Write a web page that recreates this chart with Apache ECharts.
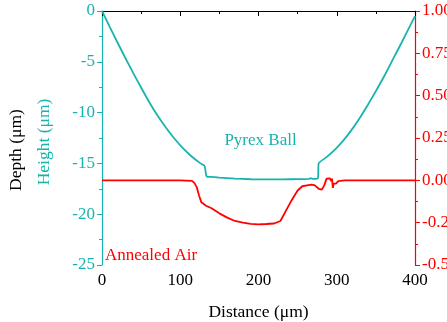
<!DOCTYPE html>
<html>
<head>
<meta charset="utf-8">
<script src="https://cdn.jsdelivr.net/npm/echarts@6/dist/echarts.min.js"></script>
<style>html,body{margin:0;padding:0;background:#fff}#c{width:447px;height:322px}</style>
</head>
<body>
<div id="c"></div>
<script>
// Height profile (Pyrex Ball), left axis
const heightX = [0, 10, 19, 29, 40, 51, 61, 72, 83, 93, 104, 115, 125, 131, 133, 134, 138, 150, 170, 190, 210, 230, 250, 265, 266, 270, 276, 277, 287, 298, 308, 319, 330, 340, 351, 362, 372, 383, 394, 400];
const heightY = [0, -1.58, -2.98, -4.5, -6.12, -7.68, -9.05, -10.42, -11.62, -12.6, -13.55, -14.35, -14.95, -15.25, -16.13, -16.3, -16.32, -16.4, -16.5, -16.56, -16.58, -16.57, -16.55, -16.53, -16.45, -16.53, -16.46, -14.98, -14.38, -13.62, -12.78, -11.7, -10.45, -9.2, -7.75, -6.22, -4.72, -3.1, -1.42, -0.5];
// Depth profile (Annealed Air), right axis
const depthX = [0, 100, 115, 118, 121, 124, 127, 133, 140, 150, 160, 170, 180, 190, 200, 210, 220, 228, 235, 242, 250, 256, 262, 268, 272, 277, 281, 284, 287, 289, 291, 293, 294, 295, 296, 297, 299, 302, 310, 400];
const depthY = [0, 0, -0.003, -0.015, -0.04, -0.09, -0.13, -0.15, -0.165, -0.195, -0.22, -0.24, -0.25, -0.257, -0.26, -0.258, -0.255, -0.24, -0.18, -0.12, -0.06, -0.035, -0.03, -0.025, -0.03, -0.05, -0.055, -0.03, 0.01, 0.0, 0.012, -0.005, 0.01, -0.045, -0.02, -0.01, -0.02, -0.005, 0, 0];

const TEAL = '#19b3ae';
const RED = '#ff0000';
const FONT = 'Liberation Serif';
const FS = 17;

const chart = echarts.init(document.getElementById('c'));
chart.setOption({
  animation: false,
  backgroundColor: '#fff',
  grid: { left: 102, right: 32, top: 11, bottom: 57, containLabel: false, outerBoundsMode: 'none' },
  xAxis: {
    type: 'value', min: 0, max: 400, interval: 100,
    axisLine: { show: true, lineStyle: { color: '#000', width: 1.2 } },
    axisTick: { show: true, length: 5, lineStyle: { color: '#000' } },
    minorTick: { show: true, splitNumber: 2, length: 3, lineStyle: { color: '#000' } },
    splitLine: { show: false },
    axisLabel: { color: '#000', fontFamily: FONT, fontSize: FS, margin: 7 },
    name: 'Distance (\u03bcm)', nameLocation: 'middle', nameGap: 38,
    nameTextStyle: { color: '#000', fontFamily: FONT, fontSize: 17.5 }
  },
  yAxis: [
    {
      type: 'value', min: -25, max: 0, interval: 5, position: 'left',
      axisLine: { show: true, lineStyle: { color: TEAL, width: 1.2 } },
      axisTick: { show: true, length: 5, lineStyle: { color: TEAL } },
      minorTick: { show: true, splitNumber: 2, length: 3, lineStyle: { color: TEAL } },
      splitLine: { show: false },
      axisLabel: { color: TEAL, fontFamily: FONT, fontSize: FS, margin: 7 }
    },
    {
      type: 'value', min: -0.5, max: 1.0, interval: 0.25, position: 'right',
      axisLine: { show: true, lineStyle: { color: RED, width: 1.2 } },
      axisTick: { show: true, length: 5, lineStyle: { color: RED } },
      minorTick: { show: true, splitNumber: 2, length: 3, lineStyle: { color: RED } },
      splitLine: { show: false },
      axisLabel: { color: RED, fontFamily: FONT, fontSize: FS, margin: 7, formatter: v => v.toFixed(2) }
    }
  ],
  graphic: [
    { type: 'text', x: 16, y: 150, rotation: Math.PI / 2,
      style: { text: 'Depth (\u03bcm)', fill: '#000', font: '17.5px "Liberation Serif"', align: 'center', verticalAlign: 'middle' } },
    { type: 'text', x: 44, y: 142, rotation: Math.PI / 2,
      style: { text: 'Height (\u03bcm)', fill: TEAL, font: '17.5px "Liberation Serif"', align: 'center', verticalAlign: 'middle' } },
    { type: 'text', x: 260.5, y: 141,
      style: { text: 'Pyrex Ball', fill: TEAL, font: '17px "Liberation Serif"', align: 'center', verticalAlign: 'middle' } },
    { type: 'text', x: 105, y: 256,
      style: { text: 'Annealed Air', fill: RED, font: '17px "Liberation Serif"', align: 'left', verticalAlign: 'middle' } }
  ],
  series: [
    {
      type: 'line', yAxisIndex: 0, showSymbol: false, symbol: 'none',
      smooth: 0.15,
      lineStyle: { color: TEAL, width: 1.8 },
      data: heightX.map((x, i) => [x, heightY[i]])
    },
    {
      type: 'line', yAxisIndex: 1, showSymbol: false, symbol: 'none',
      lineStyle: { color: RED, width: 1.8 },
      data: depthX.map((x, i) => [x, depthY[i]])
    }
  ]
});
</script>
</body>
</html>
